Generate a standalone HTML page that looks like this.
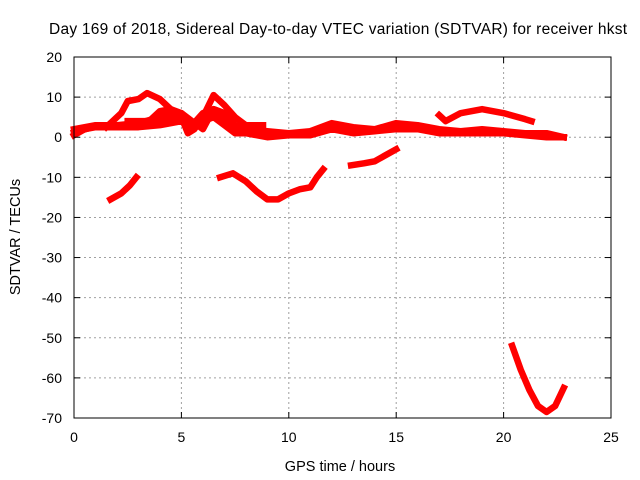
<!DOCTYPE html>
<html><head><meta charset="utf-8"><style>
body{margin:0;background:#fff;}
svg{display:block;font-family:"Liberation Sans",sans-serif;}
</style></head><body>
<svg id="chart" width="640" height="480">
<text x="338" y="34" font-size="15.5" text-anchor="middle" textLength="578">Day 169 of 2018, Sidereal Day-to-day VTEC variation (SDTVAR) for receiver hkst</text>
<text x="340" y="471" font-size="14.5" text-anchor="middle">GPS time / hours</text>
<text x="20" y="237" font-size="14.5" text-anchor="middle" transform="rotate(-90 20 237)">SDTVAR / TECUs</text>
<g id="grid"></g><g id="series"></g><g id="axes"></g>
</svg>
<script>
const xTicks=[0,5,10,15,20,25];
const yTicks=[20,10,0,-10,-20,-30,-40,-50,-60,-70];
const seriesA=[[0,0.5],[0.5,2],[1,2.5],[2,2.5],[3,2.5],[4,3],[5,4],[5.5,2],[6,4],[6.5,5],[7,3],[7.5,1],[8,1],[9,0],[10,0.5],[11,0.5],[12,2],[13,1],[14,1.5],[15,2],[16,2],[17,1],[18,1],[19,1],[20,1],[21,0.5],[22,0],[22.8,0]];
const seriesB=[[0,2],[1,3],[2,3],[3,3.5],[4,5],[5,6],[5.5,3],[6,6],[6.5,7],[7,6],[7.5,3],[8,2],[9,1.5],[10,1],[11,1.5],[12,3.5],[13,2.5],[14,2],[15,3.5],[16,3],[17,2],[18,1.5],[19,2],[20,1.5],[21,1],[22,1],[22.8,0]];
const seriesM=[[0,1.2],[1,2.7],[2,2.8],[3,3],[4,4],[5,5],[5.5,2.5],[6,5],[6.5,6],[7,4.5],[7.5,2],[8,1.5],[9,0.8],[10,0.7],[11,1],[12,2.7],[13,1.8],[14,1.8],[15,2.7],[16,2.5],[17,1.5],[18,1.2],[19,1.5],[20,1.2],[21,0.7],[22,0.5],[22.8,0]];
const seriesC=[[1.5,2.5],[2.2,6],[2.5,9],[3,9.5],[3.4,11],[4,9.5],[4.5,7],[5,5],[5.3,1],[5.6,2],[6,5],[6.5,10.5],[7,8],[7.5,5],[8,3],[8.8,3]];
const seriesD=[[2.5,4],[3.5,4],[4,6.5],[4.5,7],[5,6],[5.5,4],[6,2],[6.5,7],[7,6]];
const seriesE=[[1.7,-15.5],[2.2,-14],[2.6,-12],[2.9,-10]];
const seriesF=[[6.8,-10],[7.4,-9],[8,-11],[8.5,-13.5],[9,-15.5],[9.5,-15.5],[10,-14],[10.5,-13],[11,-12.5],[11.3,-10],[11.6,-8]];
const seriesG=[[12.9,-7],[13.5,-6.5],[14,-6],[14.5,-4.5],[15,-3]];
const seriesH=[[17,5.5],[17.3,4],[18,6],[19,7],[20,6],[21,4.5],[21.3,4]];
const seriesI=[[20.4,-52],[20.8,-58],[21.2,-63],[21.6,-67],[22,-68.5],[22.4,-67],[22.8,-62.5]];
const L=74,R=611,T=57,B=418;
const sx=v=>L+(v-0)/(25-0)*(R-L);
const sy=v=>B-(v+70)/(90)*(B-T);
const NS="http://www.w3.org/2000/svg";
function mk(t,a,p){const e=document.createElementNS(NS,t);for(const k in a)e.setAttribute(k,a[k]);p.appendChild(e);return e;}
const grid=document.getElementById('grid'),axes=document.getElementById('axes'),ser=document.getElementById('series');
xTicks.forEach(v=>{
 if(v>0&&v<25){const g=mk('line',{x1:sx(v),x2:sx(v),y1:T,y2:B,stroke:'#a0a0a0','stroke-dasharray':'2,3'},grid);
 
 }
 mk('line',{x1:sx(v),x2:sx(v),y1:B,y2:B-6,stroke:'#000'},axes);
 mk('line',{x1:sx(v),x2:sx(v),y1:T,y2:T+6,stroke:'#000'},axes);
 const t=mk('text',{x:sx(v),y:B+24,'font-size':14,'text-anchor':'middle'},axes);t.textContent=v;
 
 
});
yTicks.forEach(v=>{
 if(v<20&&v>-70){const g=mk('line',{x1:L,x2:R,y1:sy(v),y2:sy(v),stroke:'#a0a0a0','stroke-dasharray':'2,3'},grid);
 
 }
 mk('line',{x1:L,x2:L+6,y1:sy(v),y2:sy(v),stroke:'#000'},axes);
 mk('line',{x1:R,x2:R-6,y1:sy(v),y2:sy(v),stroke:'#000'},axes);
 const t=mk('text',{x:L-12,y:sy(v)+5,'font-size':14,'text-anchor':'end'},axes);t.textContent=v;
 
 
});
const fr=mk('rect',{x:L,y:T,width:R-L,height:B-T,fill:'none',stroke:'#000'},axes);


[seriesA,seriesB,seriesM,seriesC,seriesD,seriesE,seriesF,seriesG,seriesH,seriesI].forEach((s,i)=>{
 const p=mk('polyline',{points:s.map(d=>sx(d[0])+','+sy(d[1])).join(' '),fill:'none',stroke:'#ff0000','stroke-width':6.5,'stroke-linejoin':'round','stroke-linecap':'square'},ser);
 
 
});
</script>
</body></html>
